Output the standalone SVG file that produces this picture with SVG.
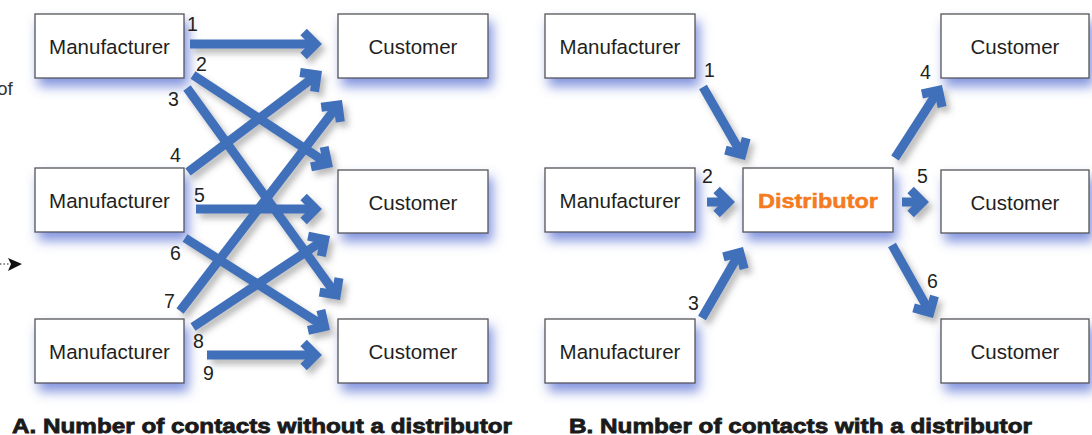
<svg xmlns="http://www.w3.org/2000/svg" width="1092" height="435" viewBox="0 0 1092 435">
  <defs>
    <filter id="boxShadow" x="-20%" y="-30%" width="150%" height="190%">
      <feDropShadow dx="4" dy="8" stdDeviation="6" flood-color="#5068d0" flood-opacity="0.7"/>
    </filter>
    <filter id="arrowShadow" x="-20%" y="-20%" width="150%" height="150%">
      <feDropShadow dx="4" dy="5" stdDeviation="3" flood-color="#555" flood-opacity="0.4"/>
    </filter>
    <marker id="chev" markerUnits="userSpaceOnUse" viewBox="-20 -20 30 40" markerWidth="30" markerHeight="40" refX="0" refY="0" orient="auto">
      <path d="M-12,-12 L0,0 L-12,12" fill="none" stroke="#3f6fb9" stroke-width="9" stroke-linejoin="miter" stroke-linecap="butt"/>
    </marker>
  </defs>
  <style>
    .box { fill: #ffffff; stroke: #555555; stroke-width: 1.3; }
    .lbl { font-family: "Liberation Sans", Arial, sans-serif; font-size: 20.5px; fill: #231f20; text-anchor: middle; }
    .dist { font-family: "Liberation Sans", Arial, sans-serif; font-size: 20.5px; font-weight: bold; fill: #f47b20; stroke: #f47b20; stroke-width: 0.5; text-anchor: middle; }
    .num { font-family: "Liberation Sans", Arial, sans-serif; font-size: 19.5px; fill: #231f20; }
    .arr { fill: none; stroke: #3f6fb9; stroke-width: 9; stroke-linecap: butt; marker-end: url(#chev); }
    .title { font-family: "Liberation Sans", Arial, sans-serif; font-size: 21px; font-weight: bold; fill: #1a1a1a; stroke: #1a1a1a; stroke-width: 0.8; }
  </style>
  <rect width="1092" height="435" fill="#ffffff"/>

  <!-- fragments at left edge -->
  <text x="-3" y="95" font-family="Liberation Sans, Arial, sans-serif" font-size="19" fill="#333">of</text>
  <g id="edge-arrow">
    <line x1="0" y1="264" x2="10" y2="264" stroke="#222" stroke-width="1" stroke-dasharray="1.5,2"/>
    <path d="M8,258 L22,264 L8,271 L11,264 Z" fill="#111"/>
  </g>

  <!-- Panel A nodes -->
  <g id="a-man1" filter="url(#boxShadow)"><rect class="box" x="35" y="14" width="149" height="64"/></g>
  <g id="a-man1-t"><text class="lbl" x="109.5" y="54">Manufacturer</text></g>
  <g id="a-man2" filter="url(#boxShadow)"><rect class="box" x="35" y="168" width="149" height="64"/></g>
  <g id="a-man2-t"><text class="lbl" x="109.5" y="208">Manufacturer</text></g>
  <g id="a-man3" filter="url(#boxShadow)"><rect class="box" x="35" y="319" width="149" height="64"/></g>
  <g id="a-man3-t"><text class="lbl" x="109.5" y="359">Manufacturer</text></g>

  <g id="a-cus1" filter="url(#boxShadow)"><rect class="box" x="338" y="14" width="150" height="64"/></g>
  <g id="a-cus1-t"><text class="lbl" x="413" y="54">Customer</text></g>
  <g id="a-cus2" filter="url(#boxShadow)"><rect class="box" x="338" y="170" width="150" height="63"/></g>
  <g id="a-cus2-t"><text class="lbl" x="413" y="210">Customer</text></g>
  <g id="a-cus3" filter="url(#boxShadow)"><rect class="box" x="338" y="319" width="150" height="64"/></g>
  <g id="a-cus3-t"><text class="lbl" x="413" y="359">Customer</text></g>

  <!-- Panel B nodes -->
  <g id="b-man1" filter="url(#boxShadow)"><rect class="box" x="545" y="14" width="150" height="64"/></g>
  <g id="b-man1-t"><text class="lbl" x="620" y="54">Manufacturer</text></g>
  <g id="b-man2" filter="url(#boxShadow)"><rect class="box" x="545" y="168" width="150" height="64"/></g>
  <g id="b-man2-t"><text class="lbl" x="620" y="208">Manufacturer</text></g>
  <g id="b-man3" filter="url(#boxShadow)"><rect class="box" x="545" y="319" width="150" height="64"/></g>
  <g id="b-man3-t"><text class="lbl" x="620" y="359">Manufacturer</text></g>

  <g id="b-dist" filter="url(#boxShadow)"><rect class="box" x="743" y="168" width="150" height="64"/></g>
  <g id="b-dist-t"><text class="dist" x="818" y="208" textLength="120" lengthAdjust="spacingAndGlyphs">Distributor</text></g>

  <g id="b-cus1" filter="url(#boxShadow)"><rect class="box" x="941" y="14" width="148" height="64"/></g>
  <g id="b-cus1-t"><text class="lbl" x="1015" y="54">Customer</text></g>
  <g id="b-cus2" filter="url(#boxShadow)"><rect class="box" x="941" y="170" width="148" height="63"/></g>
  <g id="b-cus2-t"><text class="lbl" x="1015" y="210">Customer</text></g>
  <g id="b-cus3" filter="url(#boxShadow)"><rect class="box" x="941" y="319" width="148" height="64"/></g>
  <g id="b-cus3-t"><text class="lbl" x="1015" y="359">Customer</text></g>

  <!-- Connectors -->
  <g id="connectors" filter="url(#arrowShadow)">
    <line class="arr" x1="190" y1="44" x2="315.6" y2="44"/>
    <line class="arr" x1="193" y1="75" x2="327.6" y2="163.5"/>
    <line class="arr" x1="187" y1="88" x2="336.3" y2="294.8"/>
    <line class="arr" x1="188" y1="172" x2="316.9" y2="74.9"/>
    <line class="arr" x1="196" y1="209" x2="315.6" y2="209"/>
    <line class="arr" x1="185" y1="238" x2="324.6" y2="326.6"/>
    <line class="arr" x1="180" y1="311" x2="338.1" y2="105.1"/>
    <line class="arr" x1="193" y1="327" x2="324.7" y2="239.5"/>
    <line class="arr" x1="207" y1="355" x2="315.6" y2="355"/>

    <line class="arr" x1="703" y1="87" x2="741.8" y2="154.5"/>
    <line class="arr" x1="707" y1="202" x2="728.6" y2="202"/>
    <line class="arr" x1="702" y1="318" x2="739.8" y2="252.5"/>
    <line class="arr" x1="895" y1="158" x2="938.5" y2="90.4"/>
    <line class="arr" x1="902" y1="202" x2="922.6" y2="202"/>
    <line class="arr" x1="892" y1="245" x2="929.9" y2="312.4"/>
  </g>

  <!-- Connector labels -->
  <g id="connector-labels">
    <text class="num" x="187" y="31">1</text>
    <text class="num" x="196" y="71">2</text>
    <text class="num" x="168" y="106">3</text>
    <text class="num" x="170" y="162">4</text>
    <text class="num" x="194" y="202">5</text>
    <text class="num" x="170" y="260">6</text>
    <text class="num" x="164" y="308">7</text>
    <text class="num" x="193" y="348">8</text>
    <text class="num" x="203" y="380">9</text>

    <text class="num" x="704" y="77">1</text>
    <text class="num" x="702" y="183">2</text>
    <text class="num" x="688" y="310">3</text>
    <text class="num" x="920" y="79">4</text>
    <text class="num" x="917" y="183">5</text>
    <text class="num" x="927" y="288">6</text>
  </g>

  <!-- Titles -->
  <text class="title" x="12" y="433" textLength="500" lengthAdjust="spacingAndGlyphs">A. Number of contacts without a distributor</text>
  <text class="title" x="569" y="433" textLength="463" lengthAdjust="spacingAndGlyphs">B. Number of contacts with a distributor</text>
</svg>
